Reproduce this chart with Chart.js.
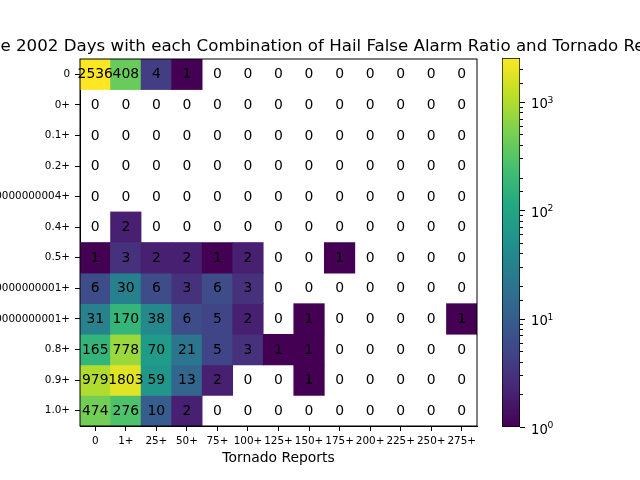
<!DOCTYPE html>
<html>
<head>
<meta charset="utf-8">
<script src="https://cdn.jsdelivr.net/npm/chart.js@4"></script>
<style>
    body { margin: 0; background: #fff; }
    canvas { position: absolute; left: 0; top: 0; }
    #wrap { position: relative; width: 640px; height: 480px; overflow: hidden; }
</style>
</head>
<body>
<div id="wrap">
    <canvas id="heat" width="640" height="480"></canvas>
    <canvas id="bar" width="640" height="480"></canvas>
</div>
<script>
var titleText = "Frequency of the 2002 Days with each Combination of Hail False Alarm Ratio and Tornado Reports";
var xName = "Tornado Reports";
var tornadoBins = ["0", "1+", "25+", "50+", "75+", "100+", "125+", "150+", "175+", "200+", "225+", "250+", "275+"];
var farBins = ["0", "0+", "0.1+", "0.2+", "0.30000000000000004+", "0.4+", "0.5+", "0.6000000000000001+", "0.7000000000000001+", "0.8+", "0.9+", "1.0+"];

var row0 = [2536, 408, 4, 1, 0, 0, 0, 0, 0, 0, 0, 0, 0];
var row1 = [0, 0, 0, 0, 0, 0, 0, 0, 0, 0, 0, 0, 0];
var row2 = [0, 0, 0, 0, 0, 0, 0, 0, 0, 0, 0, 0, 0];
var row3 = [0, 0, 0, 0, 0, 0, 0, 0, 0, 0, 0, 0, 0];
var row4 = [0, 0, 0, 0, 0, 0, 0, 0, 0, 0, 0, 0, 0];
var row5 = [0, 2, 0, 0, 0, 0, 0, 0, 0, 0, 0, 0, 0];
var row6 = [1, 3, 2, 2, 1, 2, 0, 0, 1, 0, 0, 0, 0];
var row7 = [6, 30, 6, 3, 6, 3, 0, 0, 0, 0, 0, 0, 0];
var row8 = [31, 170, 38, 6, 5, 2, 0, 1, 0, 0, 0, 0, 1];
var row9 = [165, 778, 70, 21, 5, 3, 1, 1, 0, 0, 0, 0, 0];
var row10 = [979, 1803, 59, 13, 2, 0, 0, 1, 0, 0, 0, 0, 0];
var row11 = [474, 276, 10, 2, 0, 0, 0, 0, 0, 0, 0, 0, 0];
var rows = [row0, row1, row2, row3, row4, row5, row6, row7, row8, row9, row10, row11];

var vMin = 1;
var vMax = 2536;
var barMajor = { 1: "0", 10: "1", 100: "2", 1000: "3" };

var viridis = ["#440154", "#482475", "#414487", "#355f8d", "#2a788e", "#21918c", "#22a884", "#44bf70", "#7ad151", "#bddf26", "#fde725"];

var sans = "'DejaVu Sans'";
Chart.defaults.animation = false;
Chart.defaults.color = "#000";
Chart.defaults.font.family = sans;

function hexRgb(h) {
    return [parseInt(h.substr(1, 2), 16), parseInt(h.substr(3, 2), 16), parseInt(h.substr(5, 2), 16)];
}

// log norm, same as the colour bar
function cellColor(v) {
    if (v <= 0) return "rgba(255,255,255,0)";
    var t = Math.log(v / vMin) / Math.log(vMax / vMin) * (viridis.length - 1);
    var i = Math.min(Math.floor(t), viridis.length - 2);
    var a = hexRgb(viridis[i]), b = hexRgb(viridis[i + 1]), f = t - i;
    return "rgb(" + a.map(function (c, k) { return Math.round(c + (b[k] - c) * f); }).join(",") + ")";
}

var cellLabels = {
    id: "cellLabels",
    afterDatasetsDraw: function (chart) {
        var ctx = chart.ctx, x = chart.scales.x, y = chart.scales.y;
        ctx.save();
        ctx.font = "13.9px " + sans;
        ctx.fillStyle = "#000";
        ctx.textAlign = "center";
        ctx.textBaseline = "middle";
        rows.forEach(function (row, r) {
            row.forEach(function (v, c) {
                ctx.fillText(String(v), x.getPixelForValue(c), y.getPixelForValue(r) + 0.5);
            });
        });
        ctx.restore();
    },
    afterDraw: function (chart) {
        var ctx = chart.ctx, a = chart.chartArea;
        ctx.save();
        ctx.strokeStyle = "#000";
        ctx.lineWidth = 1;
        ctx.strokeRect(a.left, a.top, a.width, a.height);
        // the title is wider than the figure and gets cut by the edges
        ctx.font = "16.67px " + sans;
        ctx.fillStyle = "#000";
        ctx.textAlign = "center";
        ctx.textBaseline = "alphabetic";
        ctx.fillText(titleText, (a.left + a.right) / 2 + 0.5, 51);
        ctx.restore();
    }
};

new Chart("heat", {
    type: "bar",
    data: {
        labels: tornadoBins,
        datasets: rows.map(function (row, r) {
            return {
                label: farBins[r],
                data: row.map(function () { return [r - 0.5, r + 0.5]; }),
                backgroundColor: row.map(cellColor),
                borderWidth: 0,
                barPercentage: 1,
                categoryPercentage: 1,
                grouped: false
            };
        })
    },
    options: {
        responsive: false,
        layout: { padding: { top: 59, right: 163, left: 0, bottom: 0 } },
        plugins: { legend: false, tooltip: false, title: { display: false } },
        scales: {
            x: {
                offset: true,
                grid: { offset: false, drawOnChartArea: false, tickLength: 5, tickColor: "#000", tickWidth: 1 },
                border: { color: "#000" },
                ticks: { autoSkip: false, maxRotation: 0, padding: 4, font: { size: 10.4 } },
                title: { display: true, text: xName, font: { size: 13.9 }, padding: { top: 4, bottom: 13 } },
                afterFit: function (s) { s.height = 54; }
            },
            y: {
                min: -0.5,
                max: 11.5,
                reverse: true,
                grid: { drawOnChartArea: false, tickLength: 5, tickColor: "#000", tickWidth: 1 },
                border: { color: "#000" },
                afterBuildTicks: function (s) {
                    s.ticks = farBins.map(function (n, i) { return { value: i }; });
                },
                ticks: {
                    autoSkip: false,
                    maxRotation: 0,
                    padding: 5,
                    font: { size: 10.4 },
                    callback: function (v) { return farBins[v]; }
                },
                afterFit: function (s) { s.width = 80; }
            }
        }
    },
    plugins: [cellLabels]
});

// colour bar ticks: major/minor lengths differ, and labels are 10 with a raised exponent
var barTicks = {
    id: "barTicks",
    afterDraw: function (chart) {
        var ctx = chart.ctx, s = chart.scales.y, a = chart.chartArea;
        ctx.save();
        ctx.strokeStyle = "#000";
        ctx.fillStyle = "#000";
        ctx.lineWidth = 1;
        ctx.textBaseline = "alphabetic";
        s.ticks.forEach(function (t) {
            var py = s.getPixelForValue(t.value);
            var snap = Math.round(py) + 0.5;
            var exp = barMajor[t.value];
            ctx.beginPath();
            ctx.moveTo(a.right, snap);
            ctx.lineTo(a.right + (exp ? 5 : 3), snap);
            ctx.stroke();
            if (exp) {
                ctx.font = "13.2px " + sans;
                ctx.fillText("10", a.right + 11, py + 6.5);
                ctx.font = "9.2px " + sans;
                ctx.fillText(exp, a.right + 27.5, py + 1);
            }
        });
        ctx.restore();
    }
};

new Chart("bar", {
    type: "bar",
    data: {
        labels: [""],
        datasets: [{
            data: [[vMin, vMax]],
            barPercentage: 1,
            categoryPercentage: 1,
            borderWidth: 1,
            borderColor: "#000",
            borderSkipped: false,
            backgroundColor: function (c) {
                var a = c.chart.chartArea;
                if (!a) return viridis[0];
                var g = c.chart.ctx.createLinearGradient(0, a.bottom, 0, a.top);
                viridis.forEach(function (h, i) { g.addColorStop(i / (viridis.length - 1), h); });
                return g;
            }
        }]
    },
    options: {
        responsive: false,
        layout: { padding: { top: 58, left: 502, right: 0, bottom: 53 } },
        plugins: { legend: false, tooltip: false },
        scales: {
            x: { display: false },
            y: {
                type: "logarithmic",
                position: "right",
                min: vMin,
                max: vMax,
                grid: { display: false },
                border: { display: false },
                afterBuildTicks: function (s) {
                    s.ticks = s.ticks.filter(function (t) { return t.value < vMax; });
                },
                ticks: {
                    autoSkip: false,
                    maxRotation: 0,
                    callback: function () { return ""; }
                },
                afterFit: function (s) { s.width = 120; }
            }
        }
    },
    plugins: [barTicks]
});
</script>
</body>
</html>
